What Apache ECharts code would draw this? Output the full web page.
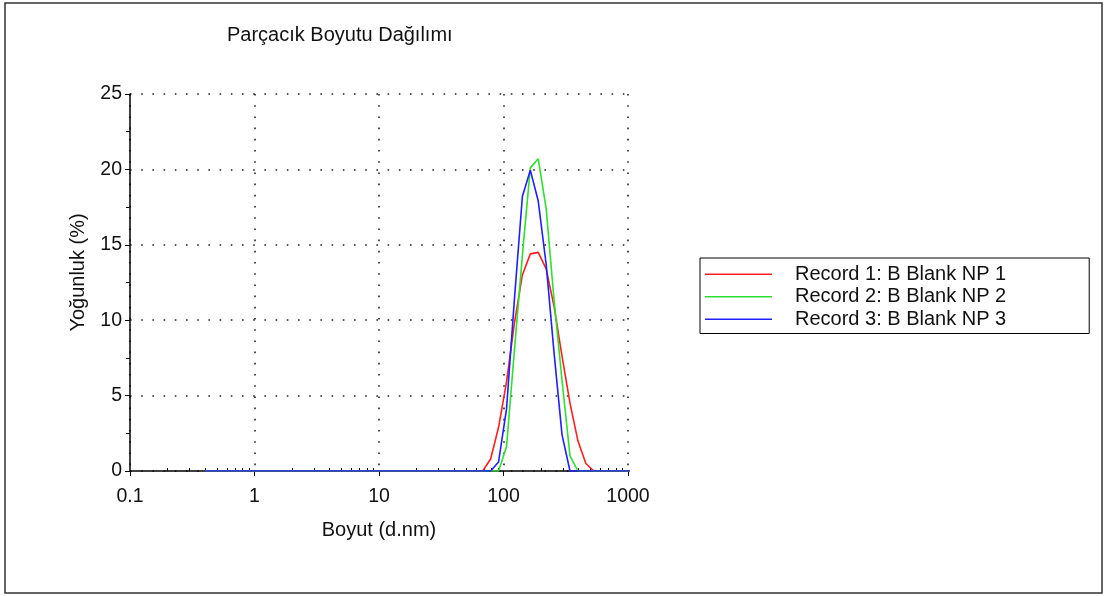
<!DOCTYPE html>
<html>
<head>
<meta charset="utf-8">
<script src="https://cdn.jsdelivr.net/npm/echarts@6/dist/echarts.min.js"></script>
<style>
html,body{margin:0;padding:0;background:#fff;}
#chart{width:1105px;height:596px;}
</style>
</head>
<body>
<div id="chart"></div>
<script>
// Size bins (d.nm)
const sizes = [0.4, 0.4632, 0.5365, 0.6213, 0.7195, 0.8332, 0.9649, 1.117, 1.294, 1.499,
  1.736, 2.010, 2.328, 2.696, 3.122, 3.615, 4.187, 4.849, 5.615, 6.503,
  7.531, 8.721, 10.10, 11.70, 13.54, 15.69, 18.17, 21.04, 24.36, 28.21,
  32.67, 37.84, 43.82, 50.75, 58.77, 68.06, 78.82, 91.28, 105.7, 122.4,
  141.8, 164.2, 190.1, 220.2, 255.0, 295.3, 342.0, 396.1, 458.7, 531.2,
  615.1, 712.4, 825.0, 955.4, 1106];

const record1 = [0,0,0,0,0,0,0,0,0,0, 0,0,0,0,0,0,0,0,0,0, 0,0,0,0,0,0,0,0,0,0,
  0,0,0,0,0, 0, 0.8, 2.9, 5.9, 9.8, 13.0, 14.4, 14.5, 13.4, 10.9, 7.6, 4.5, 2.0, 0.5, 0,
  0,0,0,0,0];
const record2 = [0,0,0,0,0,0,0,0,0,0, 0,0,0,0,0,0,0,0,0,0, 0,0,0,0,0,0,0,0,0,0,
  0,0,0,0,0, 0, 0, 0, 1.6, 8.0, 14.3, 20.1, 20.7, 17.4, 11.3, 6.0, 1.0, 0, 0, 0,
  0,0,0,0,0];
const record3 = [0,0,0,0,0,0,0,0,0,0, 0,0,0,0,0,0,0,0,0,0, 0,0,0,0,0,0,0,0,0,0,
  0,0,0,0,0, 0, 0, 0.6, 4.1, 11.4, 18.2, 19.95, 17.9, 13.7, 7.8, 2.4, 0, 0, 0, 0,
  0,0,0,0,0];

const seriesNames = ['Record 1: B Blank NP 1', 'Record 2: B Blank NP 2', 'Record 3: B Blank NP 3'];
const seriesColors = ['#ff1f1f', '#2ee02e', '#1f1fff'];
const xMinorTickValues = [0.2, 0.3, 0.4, 0.5, 0.6, 0.7, 0.8, 0.9,
  2, 3, 4, 5, 6, 7, 8, 9, 20, 30, 40, 50, 60, 70, 80, 90,
  200, 300, 400, 500, 600, 700, 800, 900];
const xLabelValues = [0.1, 1, 10, 100, 1000];

const FONT = '"Liberation Sans", Arial, sans-serif';
const TXT = '#111';
const pairs = (vals) => sizes.map((s, i) => [s, vals[i]]);
const dotted = { color: '#222', width: 1.6, type: [1.6, 9.6] };

const chart = echarts.init(document.getElementById('chart'));
chart.setOption({
  animation: false,
  backgroundColor: '#fff',
  textStyle: { fontFamily: FONT },
  title: {
    text: 'Parçacık Boyutu Dağılımı',
    left: 222, top: 20,
    textStyle: { fontFamily: FONT, fontSize: 20, fontWeight: 'normal', color: TXT }
  },
  graphic: [{
    type: 'rect', silent: true, z: -10,
    shape: { x: 5, y: 3, width: 1097, height: 590 },
    style: { fill: 'none', stroke: '#333', lineWidth: 1.5 }
  }],
  legend: {
    orient: 'vertical',
    left: 700, top: 258,
    padding: [5, 83, 3, 5],
    itemGap: 0,
    itemWidth: 67, itemHeight: 1.6,
    icon: 'rect',
    borderColor: '#000', borderWidth: 1,
    textStyle: { fontFamily: FONT, fontSize: 20, color: TXT, lineHeight: 22.5, padding: [0, 0, 0, 18] },
    data: seriesNames
  },
  grid: { left: 130, top: 94, width: 498, height: 377, containLabel: false },
  xAxis: [{
    type: 'log', logBase: 10, min: 0.1, max: 1000,
    name: 'Boyut (d.nm)', nameLocation: 'middle', nameGap: 49,
    nameTextStyle: { fontFamily: FONT, fontSize: 20, color: TXT },
    axisLine: { show: true, onZero: false, lineStyle: { color: '#000', width: 1.5 } },
    axisTick: { show: true, length: 5, customValues: xLabelValues, lineStyle: { color: '#000' } },
    axisLabel: {
      customValues: xLabelValues, margin: 16,
      fontFamily: FONT, fontSize: 19.5, color: TXT,
      formatter: (v) => String(v)
    },
    splitLine: { show: true, lineStyle: dotted }
  }, {
    type: 'log', logBase: 10, min: 0.1, max: 1000,
    position: 'bottom', offset: 0,
    axisLine: { show: false },
    axisTick: { show: true, inside: true, length: 3, customValues: xMinorTickValues, lineStyle: { color: '#000' } },
    axisLabel: { show: false },
    splitLine: { show: false }
  }],
  yAxis: {
    type: 'value', min: 0, max: 25, interval: 5,
    name: 'Yoğunluk (%)', nameLocation: 'middle', nameGap: 42,
    nameTextStyle: { fontFamily: FONT, fontSize: 20, color: TXT, padding: [0, 0, 0, 20] },
    axisLine: { show: true, lineStyle: { color: '#000', width: 1.5 } },
    axisTick: { show: true, length: 5, lineStyle: { color: '#000' } },
    minorTick: { show: true, splitNumber: 2, length: 4, lineStyle: { color: '#000' } },
    axisLabel: { margin: 8, fontFamily: FONT, fontSize: 19.5, color: TXT },
    splitLine: { show: true, lineStyle: dotted }
  },
  series: [record1, record2, record3].map((vals, i) => ({
    name: seriesNames[i],
    type: 'line',
    xAxisIndex: 0,
    data: pairs(vals),
    showSymbol: false,
    clip: true,
    color: seriesColors[i],
    lineStyle: { color: seriesColors[i], width: 1.6 },
    z: 3 + i
  }))
});
</script>
</body>
</html>
